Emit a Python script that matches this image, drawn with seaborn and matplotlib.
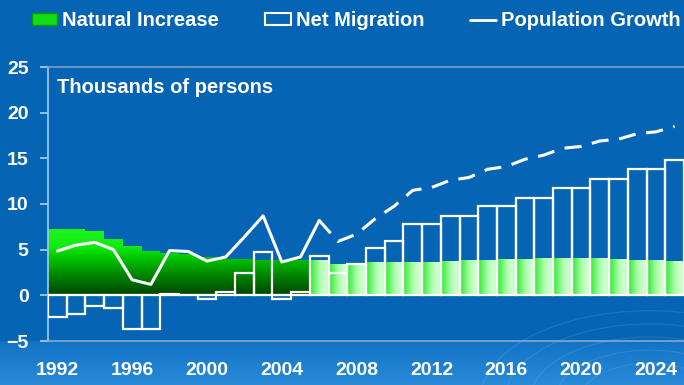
import numpy as np
import pandas as pd
import matplotlib
matplotlib.use('Agg')
import matplotlib.pyplot as plt
import seaborn as sns
from matplotlib.colors import LinearSegmentedColormap, to_rgb
from matplotlib.patches import Patch, PathPatch, Ellipse
from matplotlib.lines import Line2D
from matplotlib.path import Path

# Data (thousands of persons)
years = list(range(1992, 2026))
natural_increase = [7.3, 7.3, 7.05, 6.2, 5.4, 4.9, 4.6, 4.5, 4.2, 4.0, 4.0, 3.9, 3.9, 3.9,
                    3.9, 3.4, 3.4, 3.6, 3.65, 3.65, 3.7, 3.75, 3.85, 3.9, 3.95, 4.0, 4.1,
                    4.1, 4.1, 4.1, 4.0, 3.9, 3.85, 3.8]
net_migration = [-2.4, -2.0, -1.2, -1.4, -3.65, -3.65, 0.15, 0.0, -0.4, 0.35, 2.4, 4.75,
                 -0.4, 0.35, 4.3, 2.45, 3.4, 5.2, 5.95, 7.8, 7.8, 8.7, 8.7, 9.75, 9.75,
                 10.7, 10.7, 11.8, 11.8, 12.7, 12.7, 13.8, 13.8, 14.8]
hist_years = list(range(1992, 2007))
hist_growth = [4.85, 5.5, 5.8, 5.0, 1.7, 1.2, 4.9, 4.8, 3.75, 4.2, 6.4, 8.7, 3.65, 4.2, 8.2]
proj_years = list(range(2006, 2026))
proj_growth = [8.2, 5.9, 6.7, 8.4, 9.75, 11.5, 11.8, 12.6, 12.9, 13.8, 14.1, 14.9, 15.35,
               16.1, 16.3, 16.9, 17.1, 17.7, 17.9, 18.5]
last_hist_year = 2005
xtick_years = list(range(1992, 2025, 4))
yticks = [-5, 0, 5, 10, 15, 20, 25]

sns.set_style('ticks')
plt.rcParams['font.family'] = ['Liberation Sans', 'DejaVu Sans']
plt.rcParams['font.weight'] = 'bold'

W, H = 684, 385
fig = plt.figure(figsize=(W / 100, H / 100), dpi=100)

# background: flat blue, lighter band at the bottom
bg = fig.add_axes([0, 0, 1, 1], zorder=0)
rows = np.arange(H)  # from top
top_c = np.array(to_rgb('#0565b4'))
band_a = np.array(to_rgb('#1273c6'))
band_b = np.array(to_rgb('#2a8bd9'))
t = np.clip((rows - 341) / (H - 341), 0, 1)[:, None]
col = np.where((rows >= 341)[:, None], band_a * (1 - t) + band_b * t, top_c)
img = np.repeat(col[:, None, :], 2, axis=1)
bg.imshow(img, extent=[0, W, 0, H], aspect='auto', origin='upper')
for r in [70, 95, 120, 145, 170]:
    bg.add_patch(Ellipse((650, -15), 2 * r, 1.05 * r, fill=False, ec='#8cc4f4', lw=0.9, alpha=0.16))
bg.set_xlim(0, W)
bg.set_ylim(0, H)
bg.axis('off')

ax = fig.add_axes([48 / W, 44 / H, 636 / W, 274 / H], zorder=1)
ax.patch.set_alpha(0)

# natural increase bars (filled later with gradients)
sns.barplot(x=years, y=natural_increase, native_scale=True, width=1, color='#00cc00',
            saturation=1, linewidth=0, ax=ax, zorder=2)
nat_bars = list(ax.patches)

hist_cmap = LinearSegmentedColormap.from_list(
    'hist', [(0, '#004400'), (0.3, '#008800'), (0.55, '#00c800'), (0.7, '#10ec10'), (1, '#22f522')])
proj_cmap = LinearSegmentedColormap.from_list(
    'proj', [(0, '#2ee82e'), (0.5, '#a8fca8'), (0.8, '#d2ffd2'), (1, '#b8ffb8')])

hist_paths = []
for yr, bar in zip(years, nat_bars):
    bar.set_facecolor('none')
    if yr <= last_hist_year:
        hist_paths.append(bar.get_path().transformed(bar.get_patch_transform()))
    else:
        x0 = bar.get_x()
        x1 = x0 + bar.get_width()
        im = ax.imshow(np.linspace(0, 1, 64).reshape(1, -1), cmap=proj_cmap,
                       extent=[x0, x1, 0, bar.get_height()], aspect='auto',
                       interpolation='bilinear', zorder=2)
        im.set_clip_path(bar)

clip = PathPatch(Path.make_compound_path(*hist_paths), transform=ax.transData,
                 facecolor='none', edgecolor='none')
im = ax.imshow(np.linspace(0, 1, 256).reshape(-1, 1), cmap=hist_cmap, origin='lower',
               extent=[1991.5, last_hist_year + 0.5, 0, 7.5], aspect='auto',
               interpolation='bilinear', zorder=2)
im.set_clip_path(clip)

ax.axhline(0, color='#ddd2bc', lw=1.5, zorder=3)

# net migration outline bars
sns.barplot(x=years, y=net_migration, native_scale=True, width=1, fill=False,
            color='white', linewidth=1.6, ax=ax, zorder=4)

# population growth
sns.lineplot(x=hist_years, y=hist_growth, color='white', lw=2.2, ax=ax, zorder=5)
sns.lineplot(x=proj_years, y=proj_growth, color='white', lw=2.2, ax=ax, zorder=5)
ax.lines[-1].set_dashes((5.6, 3.5))

ax.set_xlim(1991.5, 2025.5)
ax.set_ylim(-5, 25)
ax.set_xticks(xtick_years)
ax.set_yticks(yticks)
ax.set_xlabel('')
ax.set_ylabel('')
ax.tick_params(axis='x', length=0, pad=15, labelsize=14, labelcolor='white')
ax.tick_params(axis='y', length=6, width=1.2, pad=8, labelsize=14, color='#b0cce8',
               labelcolor='white')
for s in ['left', 'top', 'bottom']:
    ax.spines[s].set_visible(True)
ax.spines['right'].set_visible(False)
ax.spines['left'].set_color('#a8c8e8')
ax.spines['top'].set_color('#7f9fc6')
ax.spines['bottom'].set_color('#8aa8cc')
for s in ['left', 'top', 'bottom']:
    ax.spines[s].set_linewidth(1.2)

ax.text(0.014, 0.927, 'Thousands of persons', transform=ax.transAxes, color='white',
        fontsize=14.5, fontweight='bold', va='center', ha='left')

handles = [Patch(facecolor='#12dd12', edgecolor='#0a9a0a'),
           Patch(facecolor='none', edgecolor='white', lw=1.5),
           Line2D([], [], color='white', lw=2)]
labels = ['Natural Increase', 'Net Migration', 'Population Growth']
fig.legend(handles, labels, loc='center left', bbox_to_anchor=(32 / W, 1 - 21 / H), ncol=3,
           frameon=False, prop={'weight': 'bold', 'size': 14.5}, labelcolor='white',
           handlelength=1.25, handleheight=0.55, handletextpad=0.25, columnspacing=2.3,
           borderaxespad=0, borderpad=0)

fig.savefig('out.png', dpi=100)
